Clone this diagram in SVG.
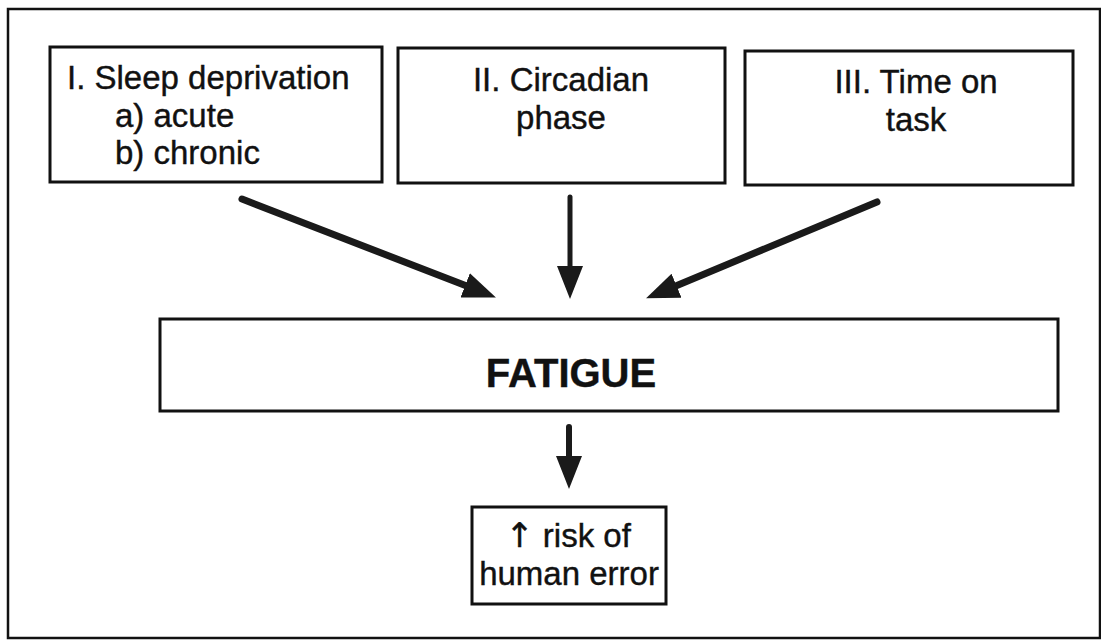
<svg xmlns="http://www.w3.org/2000/svg" width="1101" height="642" viewBox="0 0 1101 642">
  <defs>
    <style>
      .box { fill: #ffffff; stroke: #111111; stroke-width: 3; }
      .frame { fill: none; stroke: #111111; stroke-width: 2.5; }
      .t { font-family: "Liberation Sans", Arial, sans-serif; font-size: 33px; fill: #111111; stroke: #111111; stroke-width: 0.4; }
      .c { text-anchor: middle; }
      .b { font-weight: bold; font-size: 40px; }
      .arr { font-family: "DejaVu Sans", sans-serif; font-size: 34px; }
      .conn { stroke: #1a1a1a; stroke-linecap: round; fill: none; }
    </style>
    <marker id="ah" markerUnits="userSpaceOnUse" markerWidth="34" markerHeight="28" viewBox="0 0 34 28" refX="10" refY="14" orient="auto">
      <path d="M0,1 L33,14 L0,27 z" fill="#1a1a1a"/>
    </marker>
  </defs>
  <rect width="1101" height="642" fill="#ffffff"/>
  <rect class="frame" x="8" y="9" width="1092" height="629"/>

  <g id="node-sleep">
    <rect class="box" x="50" y="47" width="332" height="135"/>
    <text class="t" x="67" y="89">I. Sleep deprivation</text>
    <text class="t" x="115" y="127">a) acute</text>
    <text class="t" x="115" y="164">b) chronic</text>
  </g>
  <g id="node-circadian">
    <rect class="box" x="398" y="48" width="327" height="135"/>
    <text class="t c" x="561" y="91">II. Circadian</text>
    <text class="t c" x="561" y="129">phase</text>
  </g>
  <g id="node-time">
    <rect class="box" x="745" y="51" width="328" height="134"/>
    <text class="t c" x="916" y="93">III. Time on</text>
    <text class="t c" x="916" y="131">task</text>
  </g>
  <g id="node-fatigue">
    <rect class="box" x="160" y="319" width="898" height="92"/>
    <text class="t c b" x="571" y="387">FATIGUE</text>
  </g>
  <g id="node-risk">
    <rect class="box" x="472" y="507" width="194" height="97"/>
    <text class="t c" x="568" y="547"><tspan class="arr">↑</tspan> risk of</text>
    <text class="t c" x="569" y="585">human error</text>
  </g>

  <g id="connectors">
    <line class="conn" x1="242" y1="199" x2="474.5" y2="289.1" stroke-width="7" marker-end="url(#ah)"/>
    <line class="conn" x1="570" y1="197" x2="570" y2="276" stroke-width="5" marker-end="url(#ah)"/>
    <line class="conn" x1="877" y1="202" x2="667.3" y2="289.5" stroke-width="7" marker-end="url(#ah)"/>
    <line class="conn" x1="569" y1="427" x2="569" y2="466" stroke-width="6" marker-end="url(#ah)"/>
  </g>
</svg>
